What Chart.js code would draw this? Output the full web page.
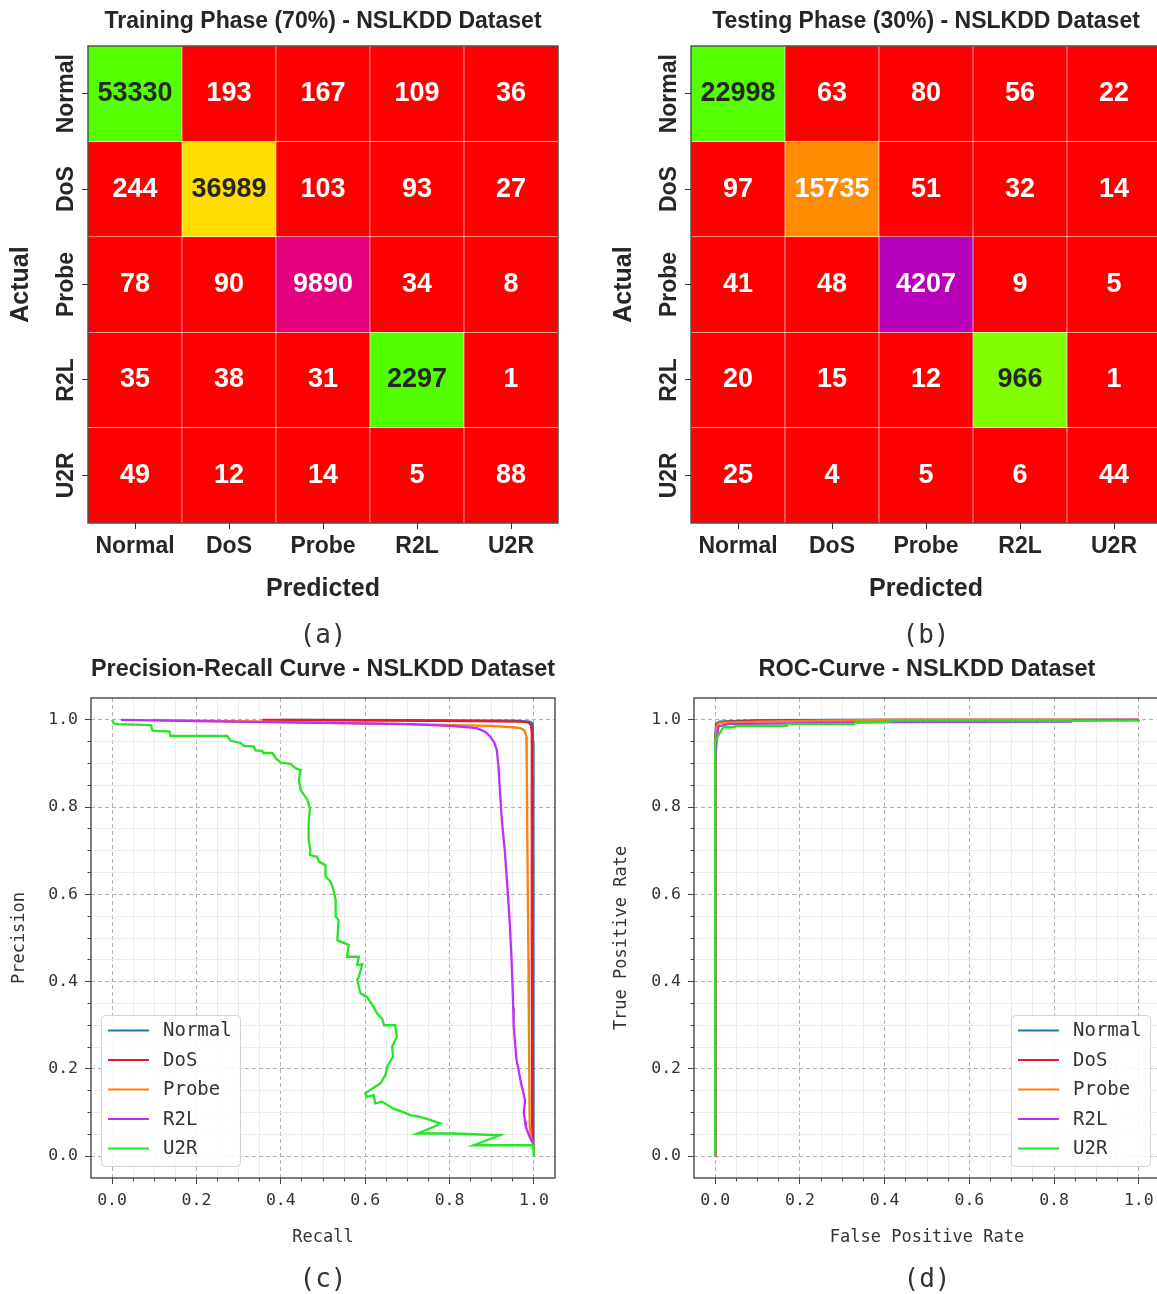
<!DOCTYPE html>
<html>
<head>
<meta charset="utf-8">
<script src="https://cdn.jsdelivr.net/npm/chart.js@4.4.1/dist/chart.umd.min.js"></script>
<style>
  html, body { margin: 0; padding: 0; background: #fff; }
  #fig { position: relative; width: 1157px; height: 1294px; overflow: hidden; background: #fff; }
  #fig canvas { position: absolute; }
</style>
</head>
<body>
<div id="fig">
  <canvas id="cmTrain" width="580" height="660" style="left:0;top:0"></canvas>
  <canvas id="cmTest" width="580" height="660" style="left:603px;top:0"></canvas>
  <canvas id="prCurve" width="580" height="660" style="left:0;top:650px"></canvas>
  <canvas id="rocCurve" width="580" height="660" style="left:603px;top:650px"></canvas>
</div>
<script>
const classes = ['Normal', 'DoS', 'Probe', 'R2L', 'U2R'];

// confusion matrices (rows = actual, cols = predicted)
const trainCounts = [
  [53330, 193, 167, 109, 36],
  [244, 36989, 103, 93, 27],
  [78, 90, 9890, 34, 8],
  [35, 38, 31, 2297, 1],
  [49, 12, 14, 5, 88]
];
const testCounts = [
  [22998, 63, 80, 56, 22],
  [97, 15735, 51, 32, 14],
  [41, 48, 4207, 9, 5],
  [20, 15, 12, 966, 1],
  [25, 4, 5, 6, 44]
];

// precision-recall curves: [recall, precision]
const prNormal = [[0.40, 1.0], [0.7, 0.999], [0.95, 0.998], [0.99, 0.996], [0.997, 0.992], [0.998, 0.95], [0.998, 0.3], [1.0, 0.03]];
const prDoS = [[0.356, 1.0], [0.6, 0.999], [0.85, 0.997], [0.97, 0.996], [0.987, 0.994], [0.993, 0.988], [0.995, 0.97], [0.995, 0.5], [0.996, 0.035], [1.0, 0.03]];
const prProbe = [[0.096, 1.0], [0.4, 0.995], [0.7, 0.99], [0.9, 0.986], [0.95, 0.983], [0.968, 0.981], [0.978, 0.975], [0.982, 0.962],
  [0.983, 0.9], [0.984, 0.77], [0.987, 0.45], [0.988, 0.3], [0.99, 0.07], [0.994, 0.037], [1.0, 0.03]];
const prR2L = [[0.021, 1.0], [0.2, 0.997], [0.5, 0.993], [0.7, 0.99], [0.8, 0.986], [0.865, 0.981], [0.885, 0.972], [0.896, 0.962],
  [0.906, 0.948], [0.912, 0.931], [0.916, 0.893], [0.92, 0.83], [0.924, 0.77], [0.931, 0.70], [0.937, 0.62], [0.943, 0.53],
  [0.947, 0.45], [0.949, 0.40], [0.951, 0.34], [0.952, 0.30], [0.956, 0.25], [0.959, 0.22], [0.965, 0.19], [0.971, 0.16],
  [0.974, 0.15], [0.979, 0.128], [0.976, 0.10], [0.979, 0.08], [0.981, 0.067], [0.99, 0.044], [0.998, 0.029], [1.0, 0.025]];
const prU2R = [[0.0, 1.0], [0.004, 0.992], [0.013, 0.99], [0.092, 0.988], [0.096, 0.975], [0.136, 0.973], [0.138, 0.963],
  [0.273, 0.963], [0.281, 0.952], [0.305, 0.947], [0.313, 0.94], [0.336, 0.939], [0.34, 0.93], [0.356, 0.929], [0.358, 0.924],
  [0.38, 0.924], [0.388, 0.912], [0.40, 0.902], [0.423, 0.899], [0.435, 0.889], [0.447, 0.885], [0.443, 0.862], [0.447, 0.839],
  [0.463, 0.817], [0.469, 0.797], [0.466, 0.763], [0.466, 0.725], [0.47, 0.702], [0.469, 0.69], [0.486, 0.686], [0.49, 0.675],
  [0.506, 0.667], [0.506, 0.641], [0.518, 0.629], [0.525, 0.61], [0.53, 0.587], [0.53, 0.549], [0.537, 0.541], [0.534, 0.495],
  [0.561, 0.484], [0.557, 0.457], [0.585, 0.457], [0.581, 0.438], [0.593, 0.44], [0.585, 0.411], [0.581, 0.404], [0.589, 0.373],
  [0.604, 0.365], [0.62, 0.342], [0.628, 0.327], [0.64, 0.316], [0.645, 0.30], [0.671, 0.30], [0.675, 0.274], [0.664, 0.251],
  [0.666, 0.228], [0.652, 0.205], [0.648, 0.186], [0.636, 0.167], [0.60, 0.144], [0.604, 0.136], [0.62, 0.14], [0.624, 0.121],
  [0.64, 0.125], [0.667, 0.109], [0.687, 0.102], [0.707, 0.094], [0.73, 0.09], [0.754, 0.083], [0.778, 0.075], [0.762, 0.067],
  [0.723, 0.052], [0.809, 0.052], [0.92, 0.048], [0.857, 0.025], [0.998, 0.025], [1.0, 0.0]];

// roc curves: [fpr, tpr]
const rocNormal = [[0, 0], [0, 0.96], [0.002, 0.99], [0.01, 0.996], [0.1, 0.999], [0.3, 1.0], [1, 1]];
const rocDoS = [[0, 0], [0.001, 0.95], [0.003, 0.99], [0.02, 0.995], [0.1, 0.997], [0.25, 0.999], [0.41, 1.0], [1, 1]];
const rocProbe = [[0, 0], [0, 0.63], [0.001, 0.95], [0.003, 0.985], [0.01, 0.993], [0.1, 0.996], [0.25, 0.998], [0.42, 1.0], [1, 1]];
const rocR2L = [[0, 0], [0, 0.9], [0.004, 0.96], [0.008, 0.985], [0.03, 0.99], [0.17, 0.992], [0.4, 0.995], [0.84, 0.996], [0.845, 0.999], [1, 1]];
const rocU2R = [[0, 0], [0, 0.95], [0.006, 0.962], [0.019, 0.983], [0.046, 0.983], [0.048, 0.986], [0.169, 0.986], [0.171, 0.99],
  [0.328, 0.99], [0.331, 0.995], [0.415, 0.995], [0.419, 0.998], [1.0, 0.998], [1.0, 1.0]];

const lineColors = ['#1f77b4', '#e8192c', '#ff7f0e', '#bf2ff5', '#22e622'];

const sans = "'Liberation Sans', Arial, sans-serif";
const mono = "'DejaVu Sans Mono', monospace";
Chart.defaults.font.family = sans;
Chart.defaults.color = '#262626';

// matplotlib "prism" colormap (256 entry lut)
function prism(t) {
  const k = Math.min(255, Math.floor(t * 256)) / 255;
  const r = 0.75 * Math.sin((k * 20.9 + 0.25) * Math.PI) + 0.67;
  const g = 0.75 * Math.sin((k * 20.9 - 0.25) * Math.PI) + 0.33;
  const b = -1.1 * Math.sin(k * 20.9 * Math.PI);
  return [r, g, b].map(v => Math.max(0, Math.min(1, v)));
}
function toCss(c) {
  return 'rgb(' + c.map(v => Math.round(v * 255)).join(',') + ')';
}
function luminance(c) {
  const lin = c.map(v => v <= 0.03928 ? v / 12.92 : Math.pow((v + 0.055) / 1.055, 2.4));
  return 0.2126 * lin[0] + 0.7152 * lin[1] + 0.0722 * lin[2];
}

const frame = {
  id: 'frame',
  afterDraw(chart) {
    const { ctx, chartArea: a } = chart;
    ctx.save();
    ctx.strokeStyle = '#3a3a3a';
    ctx.lineWidth = 1.3;
    ctx.strokeRect(a.left, a.top, a.right - a.left, a.bottom - a.top);
    ctx.restore();
  }
};

const cellText = {
  id: 'cellText',
  afterDatasetsDraw(chart) {
    const ctx = chart.ctx;
    ctx.save();
    ctx.font = 'bold 27px ' + sans;
    ctx.textAlign = 'center';
    ctx.textBaseline = 'middle';
    chart.data.datasets.forEach((ds, r) => {
      chart.getDatasetMeta(r).data.forEach((bar, c) => {
        const p = bar.getCenterPoint();
        ctx.fillStyle = ds.textColors[c];
        ctx.fillText(String(ds.counts[c]), p.x, p.y);
      });
    });
    ctx.restore();
  }
};

// vertical row labels of the confusion matrices
const rowLabels = {
  id: 'rowLabels',
  afterDraw(chart) {
    const ys = chart.scales.y;
    const ctx = chart.ctx;
    ctx.save();
    ctx.font = 'bold 23px ' + sans;
    ctx.fillStyle = '#262626';
    ctx.textAlign = 'center';
    ctx.textBaseline = 'middle';
    ys.ticks.forEach((t, i) => {
      ctx.save();
      ctx.translate(ys.right - 21, ys.getPixelForValue(t.value));
      ctx.rotate(-Math.PI / 2);
      ctx.fillText(classes[i], 0, 0);
      ctx.restore();
    });
    ctx.restore();
  }
};

const boxLegend = {
  id: 'boxLegend',
  afterDatasetsDraw(chart, args, opts) {
    const { ctx, chartArea } = chart;
    const w = 139, h = 151;
    const left = opts.side === 'right' ? chartArea.right - 10 - w : chartArea.left + 10;
    const top = chartArea.bottom - 12 - h;
    ctx.save();
    ctx.fillStyle = 'rgba(255,255,255,0.85)';
    ctx.strokeStyle = '#d4d4d4';
    ctx.lineWidth = 1;
    ctx.beginPath();
    ctx.roundRect(left + 0.5, top + 0.5, w, h, 4);
    ctx.fill();
    ctx.stroke();
    ctx.font = '19px ' + mono;
    ctx.textBaseline = 'middle';
    chart.data.datasets.forEach((ds, i) => {
      const y = top + 15.5 + i * 29.5;
      ctx.strokeStyle = ds.borderColor;
      ctx.lineWidth = 2.2;
      ctx.beginPath();
      ctx.moveTo(left + 7, y);
      ctx.lineTo(left + 48, y);
      ctx.stroke();
      ctx.fillStyle = '#333';
      ctx.fillText(ds.label, left + 62, y + 1);
    });
    ctx.restore();
  }
};

function makeHeatmap(id, counts, title, caption) {
  const flat = counts.flat();
  const lo = Math.min(...flat), hi = Math.max(...flat);
  return new Chart(document.getElementById(id), {
    type: 'bar',
    data: {
      labels: classes,
      datasets: counts.map((row, r) => {
        const rgb = row.map(v => prism((v - lo) / (hi - lo)));
        return {
          label: classes[r],
          data: row.map(() => [r, r + 1]),
          counts: row,
          backgroundColor: rgb.map(toCss),
          textColors: rgb.map(c => luminance(c) > 0.408 ? '#262626' : '#ffffff'),
          borderColor: 'rgba(255,255,255,0.8)',
          borderWidth: 0.6,
          borderSkipped: false,
          grouped: false,
          categoryPercentage: 1,
          barPercentage: 1
        };
      })
    },
    options: {
      responsive: false,
      animation: false,
      layout: { padding: { left: 0, right: 22, top: 0, bottom: 8.4 } },
      plugins: {
        legend: { display: false },
        tooltip: { enabled: false },
        title: {
          display: true, text: title, fullSize: false, color: '#262626',
          font: { size: 23, weight: 'bold' }, padding: { top: 8.2, bottom: 10.2 }
        },
        subtitle: {
          display: true, text: caption, position: 'bottom', fullSize: false, color: '#333',
          font: { family: mono, size: 26 }, padding: { top: 16.4, bottom: 0 }
        }
      },
      scales: {
        x: {
          type: 'category',
          offset: true,
          afterFit: s => { s.height = 81; },
          grid: { drawOnChartArea: false, offset: false, tickLength: 6, tickColor: '#333' },
          border: { display: false },
          ticks: { color: '#262626', font: { size: 23, weight: 'bold' }, padding: 4, maxRotation: 0 },
          title: { display: true, text: 'Predicted', color: '#262626', font: { size: 25, weight: 'bold' }, padding: 0 }
        },
        y: {
          type: 'linear',
          min: 0,
          max: 5,
          reverse: true,
          afterBuildTicks: s => { s.ticks = classes.map((c, i) => ({ value: i + 0.5 })); },
          afterFit: s => { s.width = 88; },
          grid: { drawOnChartArea: false, tickLength: 6, tickColor: '#333' },
          border: { display: false },
          ticks: { display: false },
          title: { display: true, text: 'Actual', color: '#262626', font: { size: 25, weight: 'bold' }, padding: { top: 6, bottom: 0 } }
        }
      }
    },
    plugins: [cellText, rowLabels, frame]
  });
}

const gridSteps = [];
for (let i = -1; i <= 21; i++) gridSteps.push(i / 20);
const isMajor = v => Math.abs(v * 5 - Math.round(v * 5)) < 1e-6;
const isEdge = v => v < -0.001 || v > 1.001;

function curveAxis(axis, text, titlePad) {
  const minorDash = axis === 'x' ? [3.5, 20] : [0, 2.5, 3.5, 20];
  return {
    type: 'linear',
    position: axis === 'x' ? 'bottom' : 'left',
    min: -0.05,
    max: 1.05,
    afterBuildTicks: s => { s.ticks = gridSteps.map(v => ({ value: v })); },
    afterFit: axis === 'x' ? s => { s.height = 70.2; } : s => { s.width = 91; },
    ticks: {
      autoSkip: false,
      maxRotation: 0,
      padding: axis === 'x' ? 7 : 7,
      color: '#333',
      font: { family: mono, size: 16.5 },
      callback: v => (isMajor(v) && !isEdge(v)) ? v.toFixed(1) : ''
    },
    grid: {
      color: c => isEdge(c.tick.value) ? 'rgba(0,0,0,0)' : (isMajor(c.tick.value) ? '#b0b0b0' : '#ebebeb'),
      lineWidth: 1,
      tickLength: 6,
      tickColor: c => isEdge(c.tick.value) ? 'rgba(0,0,0,0)' : '#444',
      tickBorderDash: c => isMajor(c.tick.value) ? [] : minorDash
    },
    border: { display: false, dash: c => (c.tick && isMajor(c.tick.value)) ? [4, 3] : [] },
    title: { display: true, text: text, color: '#333', font: { family: mono, size: 17 }, padding: titlePad }
  };
}

function makeCurves(id, series, title, caption, xText, yText, side, rightPad, yTitleTop) {
  return new Chart(document.getElementById(id), {
    type: 'scatter',
    data: {
      datasets: series.map((pts, i) => ({
        label: classes[i],
        data: pts.map(p => ({ x: p[0], y: p[1] })),
        showLine: true,
        borderColor: lineColors[i],
        backgroundColor: lineColors[i],
        borderWidth: 2.3,
        pointRadius: 0,
        tension: 0,
        order: series.length - i
      }))
    },
    options: {
      responsive: false,
      animation: false,
      layout: { padding: { left: 0, right: rightPad, top: 0, bottom: 14.4 } },
      plugins: {
        legend: { display: false },
        tooltip: { enabled: false },
        title: {
          display: true, text: title, fullSize: false, color: '#262626',
          font: { size: 23.5, weight: 'bold' }, padding: { top: 5.9, bottom: 13.9 }
        },
        subtitle: {
          display: true, text: caption, position: 'bottom', fullSize: false, color: '#333',
          font: { family: mono, size: 26 }, padding: { top: 16.2, bottom: 0 }
        },
        boxLegend: { side: side }
      },
      scales: {
        x: curveAxis('x', xText, { top: 0, bottom: 0 }),
        y: curveAxis('y', yText, { top: yTitleTop, bottom: 0 })
      }
    },
    plugins: [boxLegend, frame]
  });
}

makeHeatmap('cmTrain', trainCounts, 'Training Phase (70%) - NSLKDD Dataset', '(a)');
makeHeatmap('cmTest', testCounts, 'Testing Phase (30%) - NSLKDD Dataset', '(b)');
makeCurves('prCurve', [prNormal, prDoS, prProbe, prR2L, prU2R], 'Precision-Recall Curve - NSLKDD Dataset', '(c)',
  'Recall', 'Precision', 'left', 25, 9.8);
makeCurves('rocCurve', [rocNormal, rocDoS, rocProbe, rocR2L, rocU2R], 'ROC-Curve - NSLKDD Dataset', '(d)',
  'False Positive Rate', 'True Positive Rate', 'right', 23, 8.8);
</script>
</body>
</html>
